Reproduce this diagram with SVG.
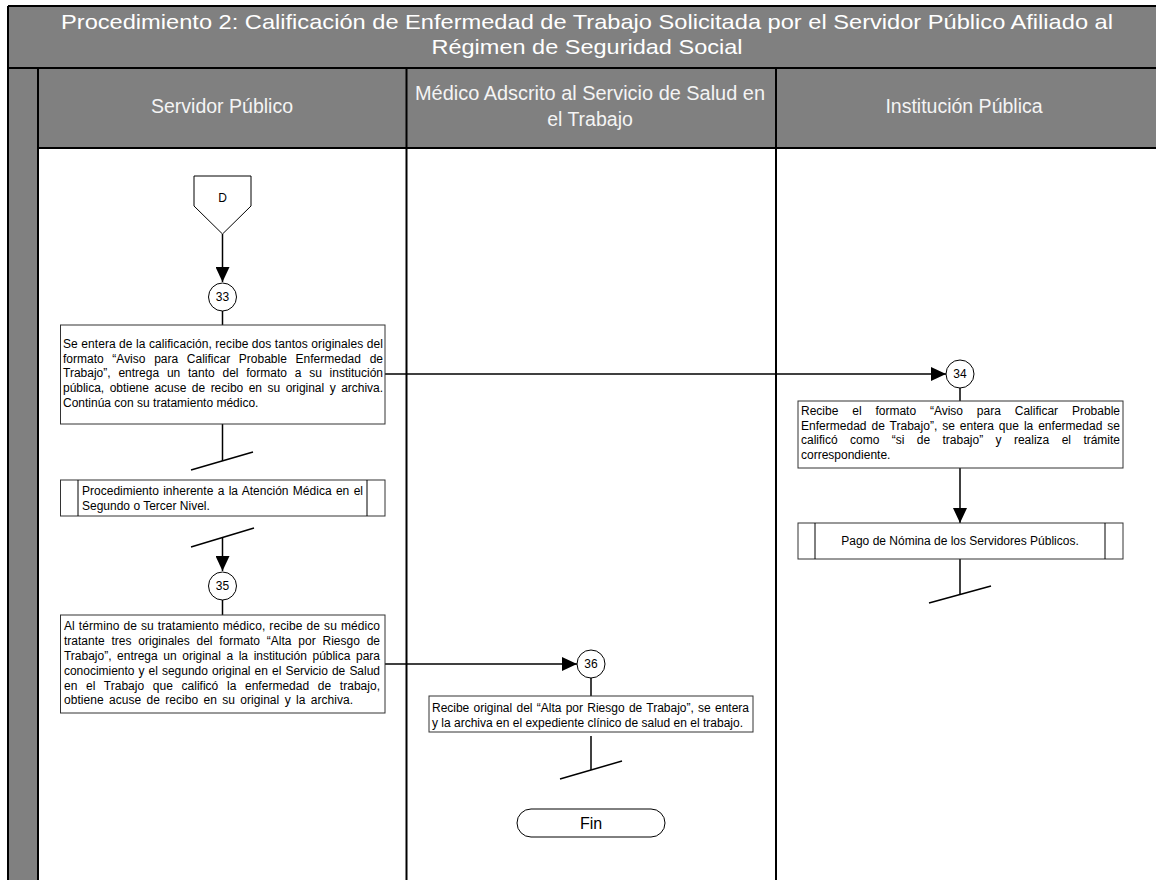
<svg xmlns="http://www.w3.org/2000/svg" width="1156" height="880" viewBox="0 0 1156 880">
<defs>
<marker id="arr" markerWidth="15" markerHeight="14" refX="15" refY="7" orient="auto" markerUnits="userSpaceOnUse">
<path d="M0,0 L15,7 L0,14 Z" fill="#000"/>
</marker>
<style>
.band{fill:#808080}
.frame{stroke:#000;stroke-width:2;fill:none}
.title{font-family:"Liberation Sans",Arial,sans-serif;font-size:21px;fill:#fff;text-anchor:middle}
.hdr{font-family:"Liberation Sans",Arial,sans-serif;font-size:19.5px;fill:#f4f4f4;text-anchor:middle}
.box{fill:#fff;stroke:#333;stroke-width:1}
.t{font-family:"Liberation Sans",Arial,sans-serif;font-size:12px;fill:#000}
.c{text-anchor:middle}
.ln{stroke:#000;stroke-width:1.5;fill:none}
.arrow{stroke:#000;stroke-width:1.5;fill:none;marker-end:url(#arr)}
.circ{fill:#fff;stroke:#000;stroke-width:1}
</style>
</defs>
<rect width="1156" height="880" fill="#fff"/>
<g id="frame">
<rect class="band" x="8" y="6" width="1148" height="62"/>
<rect class="band" x="8" y="68" width="1148" height="80"/>
<rect class="band" x="8" y="148" width="30" height="732"/>
<line class="frame" x1="8" y1="6" x2="1156" y2="6"/>
<line class="frame" x1="8" y1="6" x2="8" y2="880"/>
<line class="frame" x1="8" y1="68" x2="1156" y2="68"/>
<line class="frame" x1="38" y1="68" x2="38" y2="880"/>
<line class="frame" x1="38" y1="148" x2="1156" y2="148"/>
<line class="frame" x1="406.5" y1="68" x2="406.5" y2="880"/>
<line class="frame" x1="776" y1="68" x2="776" y2="880"/>
<text class="title" x="587" y="29" textLength="1052" lengthAdjust="spacingAndGlyphs">Procedimiento 2: Calificación de Enfermedad de Trabajo Solicitada por el Servidor Público Afiliado al</text>
<text class="title" x="587" y="54" textLength="311" lengthAdjust="spacingAndGlyphs">Régimen de Seguridad Social</text>
<text class="hdr" x="222" y="113">Servidor Público</text>
<text class="hdr" x="590" y="100" textLength="350" lengthAdjust="spacingAndGlyphs">Médico Adscrito al Servicio de Salud en</text>
<text class="hdr" x="590" y="126">el Trabajo</text>
<text class="hdr" x="964" y="113">Institución Pública</text>
</g>
<g id="connectors">
<line class="arrow" x1="222.5" y1="234" x2="222.5" y2="282"/>
<line class="ln" x1="222.5" y1="311" x2="222.5" y2="325"/>
<line class="arrow" x1="385" y1="374" x2="946" y2="374"/>
<line class="ln" x1="960" y1="388" x2="960" y2="401"/>
<line class="arrow" x1="960" y1="468" x2="960" y2="523"/>
<line class="ln" x1="960" y1="559" x2="960" y2="594"/>
<line class="ln" x1="929" y1="603" x2="991" y2="586"/>
<line class="ln" x1="222.5" y1="424" x2="222.5" y2="461"/>
<line class="ln" x1="191" y1="470" x2="253" y2="452"/>
<line class="ln" x1="191" y1="547" x2="254" y2="528"/>
<line class="arrow" x1="222.5" y1="538" x2="222.5" y2="571"/>
<line class="ln" x1="222.5" y1="600" x2="222.5" y2="615"/>
<line class="arrow" x1="385" y1="664" x2="577" y2="664"/>
<line class="ln" x1="591" y1="678" x2="591" y2="696"/>
<line class="ln" x1="591" y1="736" x2="591" y2="770"/>
<line class="ln" x1="560" y1="779" x2="622" y2="761"/>
</g>
<g id="nodeD">
<polygon points="194,176 251,176 251,206 222.5,234 194,206" fill="#fff" stroke="#000" stroke-width="1"/>
<text class="t c" x="222.5" y="202">D</text>
</g>
<g id="node33c">
<circle class="circ" cx="222.5" cy="297" r="14"/>
<text class="t c" x="222.5" y="301">33</text>
</g>
<g id="node33">
<rect class="box" x="60.5" y="325" width="324.5" height="99"/>
<text class="t" x="63" y="348" textLength="320" lengthAdjust="spacing">Se entera de la calificación, recibe dos tantos originales del</text>
<text class="t" x="63" y="363" textLength="320" lengthAdjust="spacing" word-spacing="5.4">formato “Aviso para Calificar Probable Enfermedad de</text>
<text class="t" x="63" y="377" textLength="320" lengthAdjust="spacing" word-spacing="4.4">Trabajo”, entrega un tanto del formato a su institución</text>
<text class="t" x="63" y="392" textLength="320" lengthAdjust="spacing" word-spacing="2.2">pública, obtiene acuse de recibo en su original y archiva.</text>
<text class="t" x="63" y="407">Continúa con su tratamiento médico.</text>
</g>
<g id="node34c">
<circle class="circ" cx="960" cy="374" r="14"/>
<text class="t c" x="960" y="378">34</text>
</g>
<g id="node34">
<rect class="box" x="798" y="401" width="325" height="67"/>
<text class="t" x="801" y="415" textLength="319" lengthAdjust="spacing" word-spacing="10.5">Recibe el formato “Aviso para Calificar Probable</text>
<text class="t" x="801" y="430" textLength="319" lengthAdjust="spacing" word-spacing="1.6">Enfermedad de Trabajo”, se entera que la enfermedad se</text>
<text class="t" x="801" y="444" textLength="319" lengthAdjust="spacing" word-spacing="9.1">calificó como “si de trabajo” y realiza el trámite</text>
<text class="t" x="801" y="459">correspondiente.</text>
</g>
<g id="nodePago">
<rect class="box" x="798" y="523" width="325" height="36"/>
<line stroke="#000" stroke-width="1" x1="815" y1="523" x2="815" y2="559"/>
<line stroke="#000" stroke-width="1" x1="1105" y1="523" x2="1105" y2="559"/>
<text class="t c" x="960" y="545">Pago de Nómina de los Servidores Públicos.</text>
</g>
<g id="nodeAtencion">
<rect class="box" x="60.5" y="480" width="324.5" height="36"/>
<line stroke="#000" stroke-width="1" x1="78" y1="480" x2="78" y2="516"/>
<line stroke="#000" stroke-width="1" x1="367" y1="480" x2="367" y2="516"/>
<text class="t" x="82" y="495" textLength="281" lengthAdjust="spacing" word-spacing="1">Procedimiento inherente a la Atención Médica en el</text>
<text class="t" x="82" y="510">Segundo o Tercer Nivel.</text>
</g>
<g id="node35c">
<circle class="circ" cx="222.5" cy="586" r="14"/>
<text class="t c" x="222.5" y="590">35</text>
</g>
<g id="node35">
<rect class="box" x="60.5" y="615" width="324.5" height="98"/>
<text class="t" x="64" y="630" textLength="316" lengthAdjust="spacing" word-spacing="0.6">Al término de su tratamiento médico, recibe de su médico</text>
<text class="t" x="64" y="645" textLength="316" lengthAdjust="spacing" word-spacing="3.5">tratante tres originales del formato “Alta por Riesgo de</text>
<text class="t" x="64" y="660" textLength="316" lengthAdjust="spacing" word-spacing="2.3">Trabajo”, entrega un original a la institución pública para</text>
<text class="t" x="64" y="675" textLength="316" lengthAdjust="spacing" word-spacing="0.8">conocimiento y el segundo original en el Servicio de Salud</text>
<text class="t" x="64" y="690" textLength="316" lengthAdjust="spacing" word-spacing="5.3">en el Trabajo que calificó la enfermedad de trabajo,</text>
<text class="t" x="64" y="704" textLength="289" lengthAdjust="spacing" word-spacing="2">obtiene acuse de recibo en su original y la archiva.</text>
</g>
<g id="node36c">
<circle class="circ" cx="591" cy="664" r="14"/>
<text class="t c" x="591" y="668">36</text>
</g>
<g id="node36">
<rect class="box" x="429" y="696" width="324" height="36"/>
<text class="t" x="432" y="712" textLength="317" lengthAdjust="spacing" word-spacing="1">Recibe original del “Alta por Riesgo de Trabajo”, se entera</text>
<text class="t" x="432" y="727" textLength="311" lengthAdjust="spacing">y la archiva en el expediente clínico de salud en el trabajo.</text>
</g>
<g id="nodeFin">
<rect x="517" y="809" width="148" height="28" rx="14" fill="#fff" stroke="#000" stroke-width="1"/>
<text class="t c" x="591" y="829" style="font-size:16px">Fin</text>
</g>
</svg>
